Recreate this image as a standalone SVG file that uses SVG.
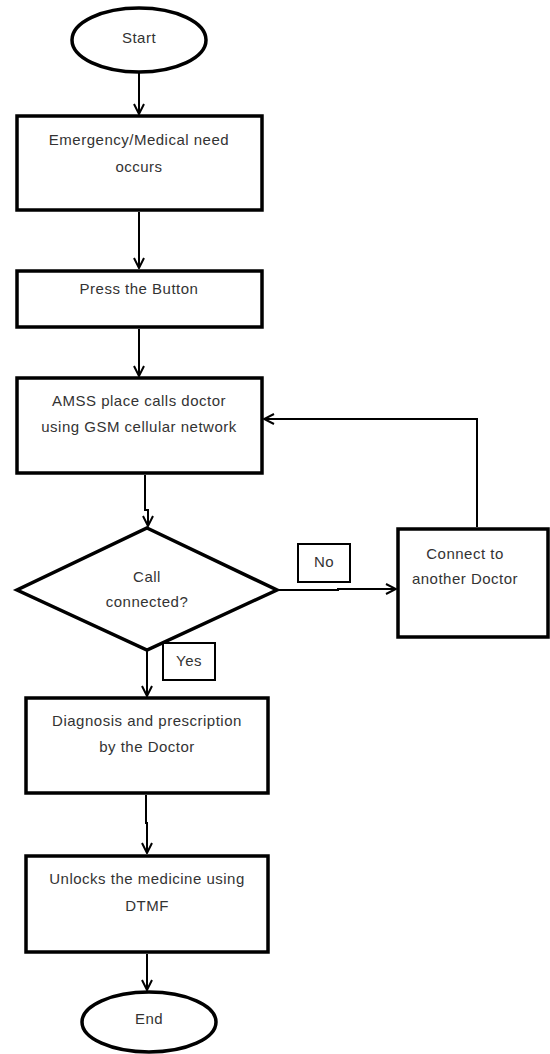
<svg xmlns="http://www.w3.org/2000/svg" width="550" height="1054" viewBox="0 0 550 1054">
<style>
.n{fill:#fff;stroke:#000;stroke-width:3.5}
.lb{fill:#fff;stroke:#000;stroke-width:2}
.c{fill:none;stroke:#000;stroke-width:2}
text{font-family:"Liberation Sans",Arial,sans-serif;font-size:15px;letter-spacing:0.5px;fill:#333;text-anchor:middle;dominant-baseline:middle}
</style>
<defs>
<marker id="ah" viewBox="0 0 12 12" refX="11" refY="6" markerWidth="12" markerHeight="12" markerUnits="userSpaceOnUse" orient="auto">
<path d="M1,1 L11,6 L1,11" fill="none" stroke="#000" stroke-width="2"/>
</marker>
</defs>
<rect width="550" height="1054" fill="#fff"/>
<g id="connectors">
<path class="c" d="M139,72 V114" marker-end="url(#ah)"/>
<path class="c" d="M139,212 V268" marker-end="url(#ah)"/>
<path class="c" d="M139,329 V376" marker-end="url(#ah)"/>
<path class="c" d="M145,475 V510 H148 V526" marker-end="url(#ah)"/>
<path class="c" d="M277,590 H338 V589 H396" marker-end="url(#ah)"/>
<path class="c" d="M477,527 V419 H264" marker-end="url(#ah)"/>
<path class="c" d="M147,651 V696" marker-end="url(#ah)"/>
<path class="c" d="M146,795 V823 H147 V853" marker-end="url(#ah)"/>
<path class="c" d="M147,954 V990" marker-end="url(#ah)"/>
</g>
<g id="start"><ellipse class="n" cx="139" cy="40" rx="67" ry="32"/><text x="139" y="39">Start</text></g>
<g id="emergency"><rect class="n" x="17" y="116" width="245" height="94"/><text x="139" y="141">Emergency/Medical need</text><text x="139" y="168">occurs</text></g>
<g id="press"><rect class="n" x="17" y="271" width="245" height="56"/><text x="139" y="290">Press the Button</text></g>
<g id="amss"><rect class="n" x="17" y="378" width="245" height="95"/><text x="139" y="402">AMSS place calls doctor</text><text x="139" y="428">using GSM cellular network</text></g>
<g id="decision"><polygon class="n" points="147,528 277,590 147,650 17,590"/><text x="147" y="578">Call</text><text x="147" y="603">connected?</text></g>
<g id="no-label"><rect class="lb" x="298" y="544" width="52" height="38"/><text x="324" y="563">No</text></g>
<g id="yes-label"><rect class="lb" x="163" y="643" width="52" height="37"/><text x="189" y="662">Yes</text></g>
<g id="another"><rect class="n" x="398" y="529" width="150" height="108"/><text x="465" y="555">Connect to</text><text x="465" y="580">another Doctor</text></g>
<g id="diagnosis"><rect class="n" x="26" y="698" width="242" height="95"/><text x="147" y="722">Diagnosis and prescription</text><text x="147" y="748">by the Doctor</text></g>
<g id="unlock"><rect class="n" x="26" y="856" width="242" height="96"/><text x="147" y="880">Unlocks the medicine using</text><text x="147" y="907">DTMF</text></g>
<g id="end"><ellipse class="n" cx="149" cy="1022" rx="67" ry="30"/><text x="149" y="1020">End</text></g>
</svg>
